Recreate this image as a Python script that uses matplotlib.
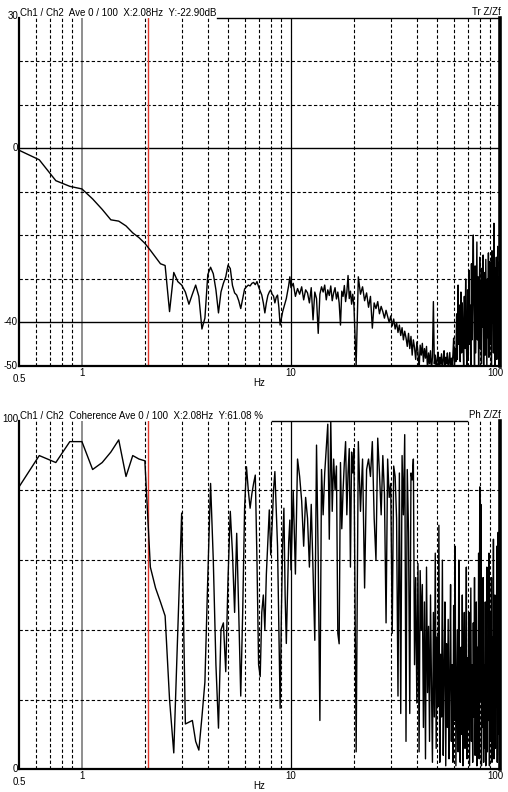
import numpy as np
import matplotlib
matplotlib.use("Agg")
import matplotlib.pyplot as plt

plt.rcParams['font.family'] = ['Liberation Sans', 'DejaVu Sans']
plt.rcParams['font.size'] = 7

# FFT bins: three frequency segments (start, step) shared by both panels
SEG_A = (0.5, 0.125)
SEG_B = (10.25, 0.25)
SEG_C = (20.5, 0.5)

# transfer function magnitude, dB
tr_a = [-0.4, -2.6, -7.4, -8.7, -9.3, -11.6, -14.0, -16.4, -16.7, -17.8,
        -19.4, -20.5, -21.8, -23.4, -25.0, -26.5, -26.9, -37.5, -28.5, -30.6,
        -31.4, -33.0, -35.8, -33.5, -31.4, -34.0, -41.5, -39.0, -29.0, -27.3,
        -28.8, -32.5, -37.8, -33.0, -31.0, -29.5, -26.8, -27.6, -31.5, -33.2,
        -33.7, -35.0, -36.8, -34.5, -32.3, -31.8, -31.4, -31.6, -31.0, -30.8,
        -31.3, -30.6, -31.8, -32.8, -33.7, -35.5, -37.8, -35.5, -33.8, -33.0,
        -32.5, -33.5, -33.9, -35.5, -34.2, -33.7, -36.5, -40.6, -39.0, -37.5,
        -36.5, -35.5, -34.5, -33.0, -31.5, -29.5, -32.0]
tr_b = [-31.0, -34.0, -32.2, -33.5, -31.8, -34.8, -32.5, -33.2, -35.5, -32.0,
        -39.4, -33.0, -34.5, -42.5, -33.5, -31.8, -33.0, -31.4, -34.8, -32.5,
        -33.8, -31.6, -35.0, -33.2, -32.0, -34.6, -33.0, -35.5, -40.6, -32.8,
        -34.0, -31.5, -35.2, -33.0, -29.2, -34.5, -32.8, -35.8, -33.5, -36.0]
tr_c = [-49.8, -29.5, -33.5, -31.8, -35.0, -33.2, -36.5, -34.0, -41.3, -35.5,
        -36.8, -35.2, -38.0, -36.3, -37.5, -39.0, -37.2, -38.6, -40.0, -38.5,
        -40.8, -39.2, -41.5, -40.0, -42.3, -40.6, -43.0, -41.2, -44.0, -42.0,
        -43.5, -45.5, -42.5, -46.0, -43.2, -47.5, -44.0, -45.8, -48.5, -44.5,
        -46.8, -51.0, -45.2, -47.5, -44.8, -49.0, -46.0, -48.2, -45.5, -51.0,
        -47.0, -49.5, -46.5, -51.0, -48.0, -35.2, -49.5, -47.5, -51.0, -48.5,
        -46.8, -51.0, -48.0, -49.6, -47.2, -51.0, -48.5, -46.5, -51.0, -48.0,
        -49.5, -47.0, -51.0, -48.8, -46.9, -51.0, -48.2, -49.8, -47.5, -43.6,
        -51.0, -46.0, -49.0, -38.0, -48.5, -31.4, -45.0, -36.0, -49.0, -33.0,
        -47.0, -35.5, -42.0, -51.0, -34.0, -46.0, -30.0, -44.5, -51.0, -32.5,
        -48.0, -28.0, -45.0, -36.0, -51.0, -26.5, -44.0, -30.0, -19.9, -38.5,
        -51.0, -27.0, -47.0, -33.0, -21.5, -44.0, -29.5, -51.0, -35.0, -25.0,
        -46.0, -31.0, -49.5, -27.5, -41.0, -24.5, -51.0, -34.5, -28.5, -47.5,
        -25.5, -39.0, -51.0, -30.0, -43.5, -24.0, -48.0, -32.0, -26.0, -45.0,
        -29.0, -51.0, -23.5, -40.0, -31.5, -47.0, -17.2, -36.0, -51.0, -27.5,
        -42.0, -25.0, -48.5, -33.5, -22.5, -44.0, -29.5, -51.0, -26.0, -38.0]

# coherence, %
coh_a = [81, 90, 88, 94, 94, 86, 88, 91, 94.5, 84,
         90, 89, 88.5, 58, 52, 48, 44, 20, 4.7, 40,
         73.5, 13, 13.5, 14, 8, 5.5, 15, 25, 55, 82,
         60, 30, 11.8, 40, 42, 28, 55, 74, 62, 45,
         67.7, 45, 21, 45, 75, 86.8, 80, 74.9, 79, 82,
         84.4, 60, 30, 26.6, 45, 50, 40, 56, 65, 74.4,
         61.5, 70, 80, 85.4, 75, 63.9, 40, 17.5, 45, 65,
         74.9, 50, 36.1, 50, 65, 71.5, 57.2]
coh_b = [80, 56, 89, 84, 77, 64, 78, 72, 58, 76,
         57, 37, 93, 60, 14, 86, 73, 85, 92, 99,
         66, 100, 74, 89, 80, 87, 39, 36, 88, 69,
         80, 88, 94, 73, 85, 92, 58, 91, 85, 92]
coh_c = [5, 94, 74, 89, 52, 86, 89, 84, 94, 72,
         60, 95, 85, 73, 90, 79, 42, 89, 78, 82,
         39, 87, 84, 72, 21, 85, 16, 90, 73, 96,
         8, 86, 68, 16, 85, 83, 89, 30, 55, 19,
         59, 5, 57, 40, 53, 12, 48, 3, 58, 22,
         41, 8, 50, 24, 2, 45, 15, 62, 6, 38,
         18, 70, 2, 33, 15, 60, 4, 28, 48, 1,
         36, 12, 43, 3, 25, 53, 8, 30, 2, 47,
         14, 64, 1, 22, 40, 5, 60, 18, 2, 35,
         10, 50, 1, 28, 45, 6, 20, 58, 3, 32,
         12, 45, 1, 25, 52, 8, 30, 2, 42, 15,
         55, 4, 22, 48, 1, 35, 10, 62, 3, 81,
         20, 76, 1, 40, 12, 55, 2, 30, 6, 48,
         1, 26, 58, 5, 34, 14, 62, 1, 28, 45,
         8, 55, 2, 38, 16, 66, 3, 30, 50, 6,
         42, 18, 64, 2, 36, 68, 10, 55, 4, 68]

CURSOR = 2.08
title_top = "Ch1 / Ch2  Ave 0 / 100  X:2.08Hz  Y:-22.90dB"
title_bot = "Ch1 / Ch2  Coherence Ave 0 / 100  X:2.08Hz  Y:61.08 %"
x_labels = [(0.5, "0.5"), (1, "1"), (10, "10"), (100, "100")]


def bins(seg, vals):
    start, step = seg
    return start + step * np.arange(len(vals))


def join(a, b, c):
    f = np.concatenate([bins(SEG_A, a), bins(SEG_B, b), bins(SEG_C, c)])
    return f, np.concatenate([a, b, c])


def frame(ax, ylim, dashed_y, solid_y, ylabels, title, tag, line_to):
    ax.set_xscale('log')
    ax.set_xlim(0.5, 100)
    ax.set_ylim(*ylim)
    ax.set_xticks([])
    ax.set_yticks([])
    ax.minorticks_off()
    ax.tick_params(which='both', length=0, labelbottom=False, labelleft=False)

    dash = (0, (3, 2))
    for f in [0.6, 0.7, 0.8, 0.9] + list(range(2, 10)) + list(range(20, 100, 10)):
        ax.axvline(f, color='black', lw=0.8, ls=dash, zorder=1)
    ax.axvline(1, color='#707070', lw=1.1, zorder=1)
    ax.axvline(10, color='black', lw=0.9, zorder=1)
    for y in dashed_y:
        ax.axhline(y, color='black', lw=0.8, ls=dash, zorder=1)
    for y in solid_y:
        ax.axhline(y, color='black', lw=1.0, zorder=1)
    ax.axvline(CURSOR, color='#e0372b', lw=1.0, zorder=2)

    for s in ['left', 'bottom']:
        ax.spines[s].set_linewidth(1.6)
    ax.spines['right'].set_linewidth(2.6)
    ax.spines['top'].set_visible(False)
    ax.plot(line_to, [1, 1], transform=ax.transAxes, color='black',
            lw=1.0, clip_on=False, zorder=5)

    for v, txt, dy in ylabels:
        ax.annotate(txt, xy=(0, v), xycoords=('axes fraction', 'data'),
                    xytext=(-1, dy), textcoords='offset pixels',
                    ha='right', va='center')
    for v, txt in x_labels:
        dy = -8 if v == 0.5 else -2
        dx = -5 if v == 100 else 0
        ax.annotate(txt, xy=(v, 0), xycoords=('data', 'axes fraction'),
                    xytext=(dx, dy), textcoords='offset pixels',
                    ha='center', va='top')
    ax.annotate("Hz", xy=(0.5, 0), xycoords='axes fraction', xytext=(0, -12),
                textcoords='offset pixels', ha='center', va='top')
    ax.annotate(title, xy=(0, 1), xycoords='axes fraction', xytext=(1, 2),
                textcoords='offset pixels', ha='left', va='baseline')
    ax.annotate(tag, xy=(1, 1), xycoords='axes fraction', xytext=(1, 3),
                textcoords='offset pixels', ha='right', va='baseline')


fig = plt.figure(figsize=(5.08, 7.92), dpi=100)
ax1 = fig.add_axes([0.0374, 0.5379, 0.9469, 0.4394])
ax2 = fig.add_axes([0.0374, 0.0287, 0.9469, 0.4401])

f1, v1 = join(tr_a, tr_b, tr_c)
ax1.plot(f1, v1, color='black', lw=1.0, zorder=4)
frame(ax1, (-50, 30), [20, 10, -10, -20, -30], [0, -40],
      [(30, "30", 2), (0, "0", 0), (-40, "-40", 0), (-50, "-50", 0)],
      title_top, "Tr Z/Zf", [0.412, 1.0])

f2, v2 = join(coh_a, coh_b, coh_c)
ax2.plot(f2, v2, color='black', lw=1.0, zorder=4)
frame(ax2, (0, 100), [20, 40, 60, 80], [],
      [(100, "100", 2), (0, "0", 0)],
      title_bot, "Ph Z/Zf", [0.525, 0.931])

fig.savefig("out.png", dpi=100)
